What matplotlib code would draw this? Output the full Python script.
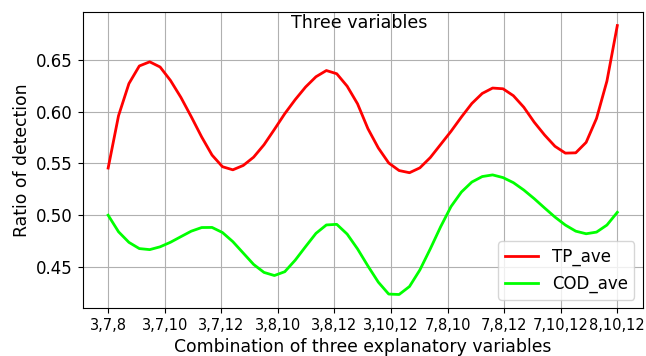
import numpy as np
import matplotlib
matplotlib.use("Agg")
import matplotlib.pyplot as plt

# tick labels: combinations of three explanatory variables
combos = ['3,7,8', '3,7,10', '3,7,12', '3,8,10', '3,8,12',
          '3,10,12', '7,8,10', '7,8,12', '7,10,12', '8,10,12']

# smoothed curves, 50 samples across the 10 combinations
tp_ave = [0.5455, 0.596, 0.627, 0.644, 0.648, 0.643, 0.630, 0.6137, 0.595, 0.5755,
          0.558, 0.5468, 0.5438, 0.548, 0.556, 0.568, 0.5828, 0.598, 0.6115, 0.6237,
          0.6336, 0.6396, 0.6365, 0.6245, 0.6075, 0.5835, 0.5649, 0.5504, 0.5431, 0.541,
          0.5457, 0.5556, 0.5683, 0.581, 0.5948, 0.6078, 0.6175, 0.6227, 0.622, 0.6153,
          0.6042, 0.5898, 0.5774, 0.5665, 0.5599, 0.5602, 0.5703, 0.5934, 0.6294, 0.683]

cod_ave = [0.500, 0.484, 0.4738, 0.4678, 0.4668, 0.4695, 0.4739, 0.4793, 0.4846, 0.4881,
           0.4882, 0.4833, 0.4745, 0.4635, 0.4525, 0.4448, 0.4418, 0.4455, 0.4566, 0.4697,
           0.4825, 0.4906, 0.4912, 0.4818, 0.4675, 0.451, 0.4354, 0.4239, 0.4235, 0.4312,
           0.4472, 0.4675, 0.4889, 0.5084, 0.5224, 0.532, 0.5373, 0.5389, 0.5363, 0.5314,
           0.5243, 0.516, 0.507, 0.4982, 0.4905, 0.4846, 0.4821, 0.4837, 0.4905, 0.5028]

x = np.linspace(0, len(combos) - 1, len(tp_ave))

plt.rcParams['font.size'] = 12
fig = plt.figure(figsize=(6.46, 3.56), dpi=100)
ax = fig.add_axes([0.128, 0.135, 0.867, 0.831])

ax.plot(x, tp_ave, color='red', lw=2, label='TP_ave')
ax.plot(x, cod_ave, color='lime', lw=2, label='COD_ave')

ax.set_xticks(range(len(combos)))
ax.set_xticklabels(combos, fontsize=10.5)
ax.set_yticks([0.45, 0.50, 0.55, 0.60, 0.65])
ax.grid(True)
ax.set_xlabel('Combination of three explanatory variables', fontsize=12.4)
ax.set_ylabel('Ratio of detection', fontsize=12.4)
ax.text(0.494, 0.946, 'Three variables', transform=ax.transAxes,
        ha='center', va='baseline', fontsize=12.6)
ax.legend(loc='lower right')

fig.savefig('out.png', dpi=100)
